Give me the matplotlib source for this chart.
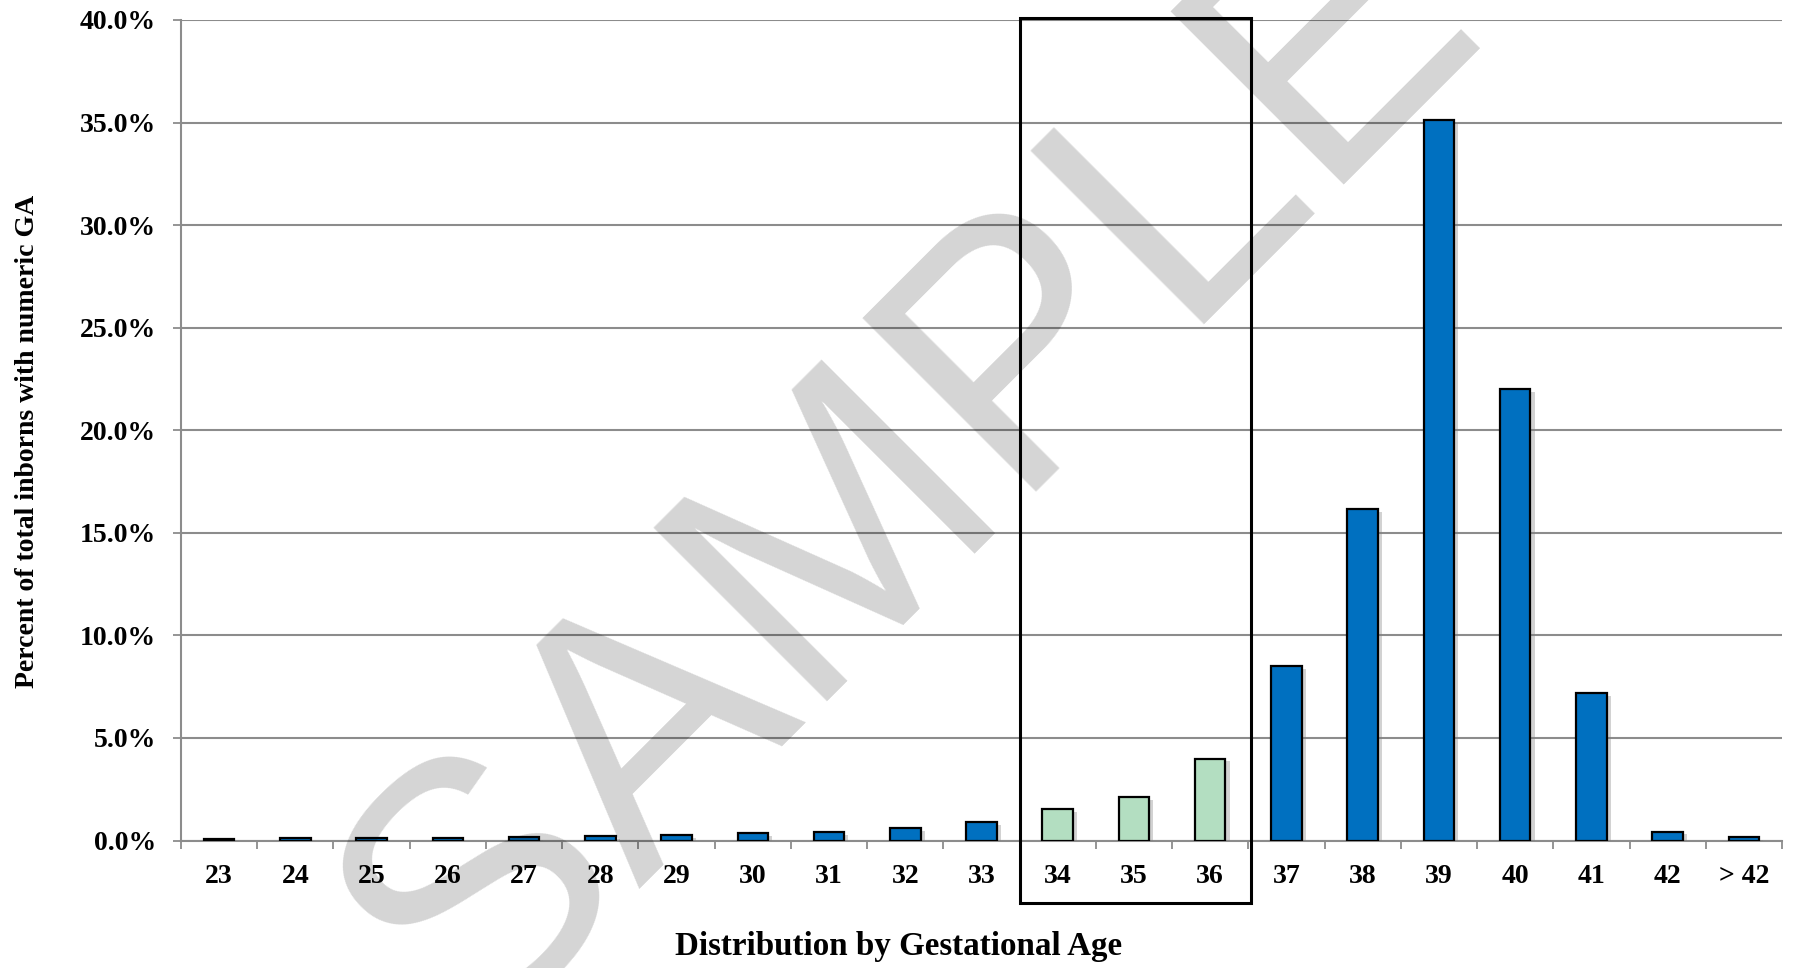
import matplotlib
matplotlib.use("Agg")
import matplotlib.pyplot as plt
import matplotlib.patheffects as pe
from matplotlib.patches import Rectangle
from matplotlib.ticker import FixedLocator

ages = ["23", "24", "25", "26", "27", "28", "29", "30", "31", "32", "33",
        "34", "35", "36", "37", "38", "39", "40", "41", "42", "> 42"]
pct = [0.08, 0.12, 0.13, 0.13, 0.16, 0.22, 0.27, 0.35, 0.42, 0.62, 0.88,
       1.52, 2.10, 3.99, 8.52, 16.17, 35.12, 22.02, 7.20, 0.43, 0.18]
late_preterm = ["34", "35", "36"]
yticks = [0, 5, 10, 15, 20, 25, 30, 35, 40]

blue = "#0070C0"
green = "#B3DEC1"
grid_gray = "#8C8C8C"

plt.rcParams["font.family"] = ["Liberation Serif", "DejaVu Serif"]
plt.rcParams["font.weight"] = "bold"

fig = plt.figure(figsize=(17.95, 9.68), dpi=100)
ax = fig.add_axes([181 / 1795, 1 - 840.5 / 968, 1601 / 1795, 820.5 / 968])

x = list(range(len(ages)))
colors = [green if a in late_preterm else blue for a in ages]
bars = ax.bar(x, pct, width=0.4, color=colors, edgecolor="black",
              linewidth=1.6, zorder=3)
for b in bars:
    b.set_path_effects([pe.SimplePatchShadow(offset=(3, -2), shadow_rgbFace="gray", alpha=0.35),
                        pe.Normal()])

ax.set_xlim(-0.5, len(ages) - 0.5)
ax.set_ylim(0, 40)
ax.set_yticks(yticks)
ax.set_yticklabels([f"{v:.1f}%" for v in yticks], fontsize=20, fontweight="bold")
ax.set_xticks(x)
ax.set_xticklabels(ages, fontsize=20, fontweight="bold")
ax.xaxis.set_minor_locator(FixedLocator([i - 0.5 for i in range(len(ages) + 1)]))

ax.tick_params(axis="x", which="major", length=0, pad=17)
ax.tick_params(axis="x", which="minor", length=6, width=1.3, color=grid_gray, direction="out")
ax.tick_params(axis="y", which="major", length=6, width=1.3, color=grid_gray, pad=12)

ax.grid(axis="y", color=grid_gray, linewidth=1.5, zorder=0)
ax.set_axisbelow(True)
for s in ["top", "right"]:
    ax.spines[s].set_visible(False)
for s in ["left", "bottom"]:
    ax.spines[s].set_color(grid_gray)
    ax.spines[s].set_linewidth(1.5)

ax.set_ylabel("Percent of total inborns with numeric GA", fontsize=20, fontweight="bold")
ax.yaxis.set_label_coords((28 - 181) / 1601, (840.5 - 441) / 820.5)
ax.yaxis.label.set_va("center")
ax.set_xlabel("Distribution by Gestational Age", fontsize=23.8, fontweight="bold")
ax.xaxis.set_label_coords((898.5 - 181) / 1601, (840.5 - 947) / 820.5)
ax.xaxis.label.set_va("center")

# box round the late preterm group
ax.add_patch(Rectangle((10.5, -3.06), 3.03, 43.15, fill=False, edgecolor="black",
                       linewidth=2.2, clip_on=False, zorder=5))

# watermark
fig.text(913 / 1795, 1 - 470 / 968, "SAMPLE", fontsize=256, family="Liberation Sans",
         fontweight="normal", color="black", alpha=0.17, rotation=45,
         ha="center", va="center", rotation_mode="anchor", zorder=10)

fig.savefig("out.png", dpi=100)
